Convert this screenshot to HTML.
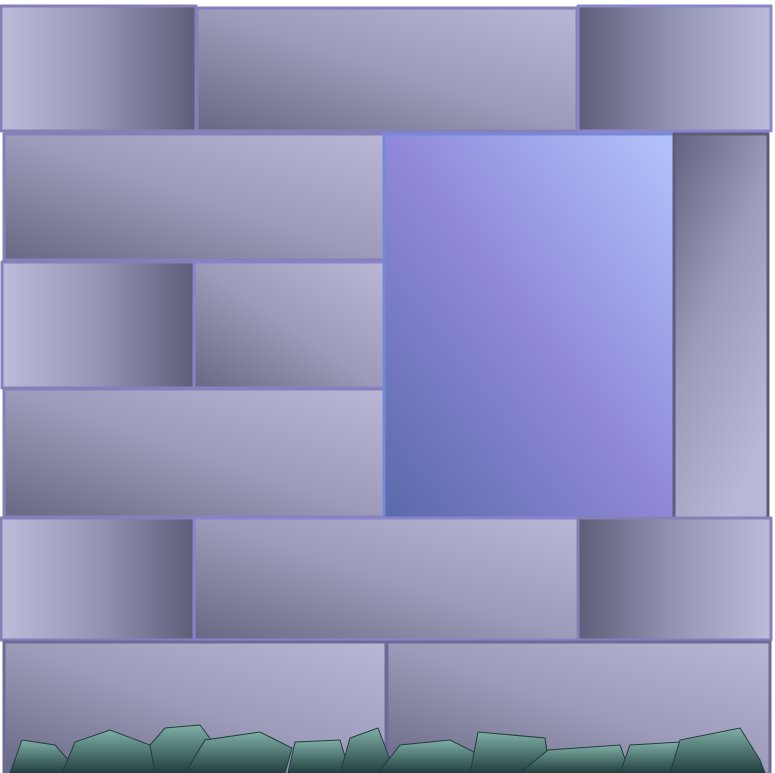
<!DOCTYPE html>
<html><head><meta charset="utf-8">
<style>html,body{margin:0;padding:0;background:#fff;}svg{display:block}</style>
</head><body>
<svg width="775" height="773" viewBox="0 0 775 773">
<defs>
<linearGradient id="gh" x1="1" y1="0" x2="0" y2="1">
<stop offset="0" stop-color="#b8b8d6"/><stop offset="0.5" stop-color="#9c9cba"/><stop offset="1" stop-color="#686884"/></linearGradient>
<linearGradient id="gl" x1="0" y1="0" x2="1" y2="0">
<stop offset="0" stop-color="#bcbcda"/><stop offset="0.5" stop-color="#9494b4"/><stop offset="1" stop-color="#5e5e7a"/></linearGradient>
<linearGradient id="gr" x1="1" y1="0" x2="0" y2="0">
<stop offset="0" stop-color="#bcbcda"/><stop offset="0.5" stop-color="#9494b4"/><stop offset="1" stop-color="#5e5e7a"/></linearGradient>
<linearGradient id="gv" x1="0" y1="0" x2="0.6" y2="1">
<stop offset="0" stop-color="#626280"/><stop offset="0.5" stop-color="#9c9cba"/><stop offset="1" stop-color="#b8b8d6"/></linearGradient>
<linearGradient id="gw" x1="1" y1="0" x2="0" y2="1">
<stop offset="0" stop-color="#b2c4fa"/><stop offset="0.5" stop-color="#9088da"/><stop offset="1" stop-color="#5a6aaa"/></linearGradient>
<linearGradient id="gk" x1="0" y1="0" x2="0" y2="1">
<stop offset="0" stop-color="#7fb0a6"/><stop offset="1" stop-color="#223e3e"/></linearGradient>
</defs>
<rect width="775" height="773" fill="#fff"/>
<g stroke-width="3" stroke-linejoin="round">
<rect x="1" y="6" width="195" height="125" fill="url(#gl)" stroke="#8680b8"/>
<rect x="197" y="8" width="380" height="123" fill="url(#gh)" stroke="#8680b8"/>
<rect x="578" y="6" width="193" height="125" fill="url(#gr)" stroke="#8a86c8"/>
<rect x="4" y="134" width="380" height="126" fill="url(#gh)" stroke="#8680b8"/>
<rect x="2" y="262" width="192" height="126" fill="url(#gl)" stroke="#8680b8"/>
<rect x="194" y="262" width="190" height="126" fill="url(#gh)" stroke="#8a82cc"/>
<rect x="4" y="389" width="380" height="128" fill="url(#gh)" stroke="#8680b8"/>
<rect x="384" y="134" width="290" height="384" fill="url(#gw)" stroke="#7888d8"/>
<rect x="674" y="134" width="94" height="384" fill="url(#gv)" stroke="#5e5c7c"/>
<rect x="1" y="518" width="193" height="122" fill="url(#gl)" stroke="#8680b8"/>
<rect x="194" y="518" width="384" height="122" fill="url(#gh)" stroke="#8a82cc"/>
<rect x="578" y="518" width="193" height="122" fill="url(#gr)" stroke="#8680b8"/>
<rect x="4" y="642" width="382" height="132" fill="url(#gh)" stroke="#6e6a98"/>
<rect x="387" y="642" width="383" height="132" fill="url(#gh)" stroke="#6e6a98"/>
</g>
<g fill="url(#gk)" stroke="#223c3c" stroke-width="1">
<polygon points="10,773 22,740 55,745 80,773"/>
<polygon points="62,773 75,742 110,730 150,745 170,773"/>
<polygon points="150,745 165,728 200,725 215,745 190,773 155,773"/>
<polygon points="185,773 205,740 260,732 292,748 285,773"/>
<polygon points="288,773 295,742 340,740 350,773"/>
<polygon points="340,773 350,738 378,728 390,760 385,773"/>
<polygon points="378,773 400,745 450,740 500,765 510,773"/>
<polygon points="470,773 478,732 545,738 550,773"/>
<polygon points="520,773 548,750 620,745 630,773"/>
<polygon points="620,773 630,745 680,742 685,773"/>
<polygon points="670,773 680,740 740,728 760,760 765,773"/>
</g>
</svg>
</body></html>
